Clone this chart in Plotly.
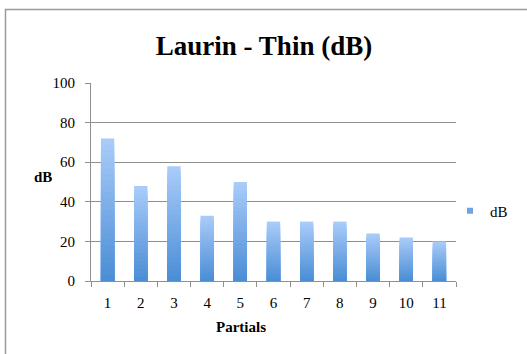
import plotly.graph_objects as go

partials = ["1", "2", "3", "4", "5", "6", "7", "8", "9", "10", "11"]
db_values = [72, 48, 58, 33, 50, 30, 30, 30, 24, 22, 20]
y_ticks = [0, 20, 40, 60, 80, 100]

W, H = 527, 354
FONT = "Liberation Serif"

top_rgb = (168, 203, 248)
bot_rgb = (76, 142, 214)
N = 24

fig = go.Figure()
# per-bar vertical gradient: overlay progressively shorter, darker bars
for k in range(N):
    f = 1 - k / N
    t = k / (N - 1)
    c = tuple(round(top_rgb[i] + (bot_rgb[i] - top_rgb[i]) * t) for i in range(3))
    fig.add_trace(go.Bar(
        x=partials, y=[v * f for v in db_values],
        marker=dict(color="rgb(%d,%d,%d)" % c, line=dict(width=0)),
        showlegend=False, hoverinfo="skip" if k else "x+y", name="dB",
    ))
fig.add_trace(go.Scatter(
    x=[None], y=[None], mode="markers", name="dB",
    marker=dict(symbol="square", size=6, color="rgb(110,163,228)"),
))

x0, x1 = 91 / W, 456 / W
y0, y1 = 1 - 281 / H, 1 - 83 / H

fig.update_layout(
    width=W, height=H, margin=dict(l=0, r=0, t=0, b=0, autoexpand=False),
    paper_bgcolor="white", plot_bgcolor="white",
    barmode="overlay", bargap=0.6,
    font=dict(family=FONT, size=15, color="black"),
    title=dict(text="<b>Laurin - Thin (dB)</b>", x=264 / W, xanchor="center",
               y=1 - 46 / H, yanchor="middle", font=dict(size=27, family=FONT)),
    xaxis=dict(domain=[x0, x1], type="category", range=[-0.5, 10.5], automargin=False,
               showline=True, linecolor="#8f8f8f", linewidth=1,
               ticks="outside", tickson="boundaries", ticklen=5, tickcolor="#8f8f8f",
               showgrid=False, ticklabelstandoff=8, tickfont=dict(size=15)),
    yaxis=dict(domain=[y0, y1], range=[0, 100], tickvals=y_ticks, automargin=False,
               showline=True, linecolor="#8f8f8f", linewidth=1,
               ticks="outside", ticklen=5, tickcolor="#8f8f8f",
               showgrid=True, gridcolor="#8f8f8f", gridwidth=1, zeroline=False,
               ticklabelstandoff=7, tickfont=dict(size=15)),
    legend=dict(x=450 / W, xanchor="left", y=1 - 211 / H, yanchor="middle",
                font=dict(size=15), bgcolor="rgba(0,0,0,0)", itemwidth=30),
    annotations=[
        dict(text="<b>dB</b>", x=43 / W, y=1 - 177 / H, xref="paper", yref="paper",
             xanchor="center", yanchor="middle", showarrow=False, font=dict(size=15)),
        dict(text="<b>Partials</b>", x=241 / W, y=1 - 327 / H, xref="paper", yref="paper",
             xanchor="center", yanchor="middle", showarrow=False, font=dict(size=15)),
    ],
    shapes=[dict(type="rect", xref="paper", yref="paper",
                 x0=5.5 / W, x1=1.2, y0=-0.2, y1=1 - 9.5 / H,
                 line=dict(color="#9a9a9a", width=1.5))],
)

fig.write_html("out.html")
